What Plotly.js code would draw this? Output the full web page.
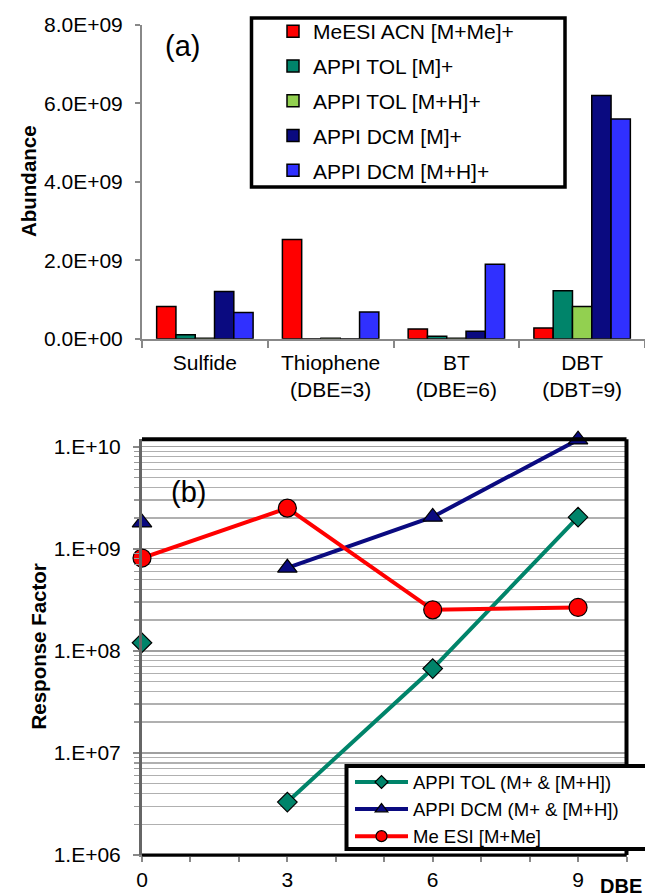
<!DOCTYPE html>
<html>
<head>
<meta charset="utf-8">
<script src="https://cdn.plot.ly/plotly-3.0.1.min.js"></script>
<style>html,body{margin:0;padding:0;background:#fff;}#chart{width:645px;height:896px;}</style>
</head>
<body>
<div id="chart"></div>
<script>
// ---- Panel (a) data ----
const categories = ['Sulfide', 'Thiophene<br>(DBE=3)', 'BT<br>(DBE=6)', 'DBT<br>(DBT=9)'];
const barSeriesNames = ['MeESI ACN [M+Me]+', 'APPI TOL [M]+', 'APPI TOL [M+H]+', 'APPI DCM [M]+', 'APPI DCM [M+H]+'];
const meEsiAcn  = [0.82e9, 2.53e9, 0.25e9, 0.27e9];
const appiTolM  = [0.10e9, 0,      0.06e9, 1.22e9];
const appiTolMH = [0.01e9, 0.01e9, 0.01e9, 0.82e9];
const appiDcmM  = [1.20e9, 0,      0.19e9, 6.20e9];
const appiDcmMH = [0.67e9, 0.68e9, 1.90e9, 5.60e9];
const abundTickVals = [0, 2e9, 4e9, 6e9, 8e9];
const abundTickText = ['0.0E+00', '2.0E+09', '4.0E+09', '6.0E+09', '8.0E+09'];

// ---- Panel (b) data ----
const lineSeriesNames = ['APPI TOL (M+ & [M+H])', 'APPI DCM (M+ & [M+H])', 'Me ESI [M+Me]'];
const dbe   = [0, 3, 6, 9];
const tolRF = [1.2e8, 3.3e6, 6.7e7, 2.04e9];
const dcmRF = [1.8e9, 6.5e8, 2.05e9, 1.17e10];
const esiRF = [8.1e8, 2.5e9, 2.52e8, 2.66e8];
const rfTickVals = [1e6, 1e7, 1e8, 1e9, 1e10];
const rfTickText = ['1.E+06', '1.E+07', '1.E+08', '1.E+09', '1.E+10'];
const dbeTickVals = [0, 3, 6, 9];

const FONT = 'Liberation Sans, Arial, sans-serif';
const barColors = ['#ff0000', '#00846a', '#92d050', '#0a0a80', '#3030ff'];
const barData = [meEsiAcn, appiTolM, appiTolMH, appiDcmM, appiDcmMH];

const traces = [];
barData.forEach((vals, i) => {
  traces.push({
    type: 'bar', x: categories, y: vals, name: barSeriesNames[i],
    xaxis: 'x', yaxis: 'y', legend: 'legend', legendgroup: 'g' + i,
    marker: {color: barColors[i], line: {color: '#000', width: 1.5}},
    hoverinfo: 'skip'
  });
});

const lineDefs = [
  {y: tolRF, color: '#00846a', symbol: 'diamond', size: 15, legSize: 10, name: lineSeriesNames[0], start: 1},
  {y: dcmRF, color: '#0a0a80', symbol: 'triangle-up', size: 17, legSize: 11, name: lineSeriesNames[1], start: 1},
  {y: esiRF, color: '#ff0000', symbol: 'circle', size: 18, legSize: 11, name: lineSeriesNames[2], start: 0},
];
lineDefs.forEach((d) => {
  const mk = {symbol: d.symbol, size: d.size, color: d.color, line: {color: '#000', width: 1.2}};
  if (d.start > 0) {
    // isolated point at DBE 0 (not joined to the line)
    traces.push({
      type: 'scatter', mode: 'markers', x: dbe.slice(0, d.start), y: d.y.slice(0, d.start),
      xaxis: 'x2', yaxis: 'y2', showlegend: false, cliponaxis: false, marker: mk, hoverinfo: 'skip'
    });
  }
  traces.push({
    type: 'scatter', mode: 'lines+markers', x: dbe.slice(d.start), y: d.y.slice(d.start), name: d.name,
    xaxis: 'x2', yaxis: 'y2', showlegend: false, cliponaxis: false,
    line: {color: d.color, width: 4}, marker: mk, hoverinfo: 'skip'
  });
  // legend entry (small symbol, as in the reference legend)
  traces.push({
    type: 'scatter', mode: 'lines+markers', x: [null], y: [null], name: d.name,
    xaxis: 'x2', yaxis: 'y2', legend: 'legend2',
    line: {color: d.color, width: 4},
    marker: {symbol: d.symbol, size: d.legSize, color: d.color, line: {color: '#000', width: 1.2}},
    hoverinfo: 'skip'
  });
});

const W = 645, H = 896;
const px = v => v / W;
const py = v => (H - v) / H;

const layout = {
  width: W, height: H,
  margin: {l: 0, r: 0, t: 0, b: 0, autoexpand: false},
  paper_bgcolor: '#fff', plot_bgcolor: 'rgba(0,0,0,0)',
  font: {family: FONT, size: 21, color: '#000'},
  showlegend: true,
  barmode: 'group', bargap: 0.233, bargroupgap: 0,
  xaxis: {
    domain: [px(142), 1], anchor: 'y', type: 'category',
    showline: true, linecolor: '#888', linewidth: 2,
    ticks: 'outside', tickson: 'boundaries', ticklen: 7, tickcolor: '#888', tickwidth: 2, ticklabelstandoff: 4,
    tickfont: {size: 21}, showgrid: false, zeroline: false, fixedrange: true
  },
  yaxis: {
    domain: [py(338.7), py(24.8)], anchor: 'x', range: [0, 8e9],
    tickmode: 'array', tickvals: abundTickVals, ticktext: abundTickText,
    showline: true, linecolor: '#888', linewidth: 2,
    ticks: 'outside', ticklen: 5, tickcolor: '#888', tickwidth: 2, ticklabelstandoff: 8,
    showgrid: false, zeroline: false, tickfont: {size: 21}
  },
  xaxis2: {
    domain: [px(142), px(626.5)], anchor: 'y2', range: [0, 10],
    tickmode: 'array', tickvals: dbeTickVals,
    showline: true, linecolor: '#888', linewidth: 2,
    ticks: 'outside', ticklen: 5, tickcolor: '#888', tickwidth: 2, ticklabelstandoff: 0,
    minor: {dtick: 1, ticks: 'outside', ticklen: 5, tickcolor: '#888', tickwidth: 2, showgrid: false},
    showgrid: false, zeroline: false, tickfont: {size: 21}
  },
  yaxis2: {
    domain: [py(855), py(439.3)], anchor: 'x2', type: 'log', range: [6, 10.072],
    tickmode: 'array', tickvals: rfTickVals, ticktext: rfTickText,
    showline: true, linecolor: '#666', linewidth: 3,
    ticks: 'outside', ticklen: 6, tickcolor: '#888', tickwidth: 2, ticklabelstandoff: 8,
    showgrid: true, gridcolor: '#a0a0a0', gridwidth: 1.5,
    minor: {dtick: 'D1', ticks: 'outside', ticklen: 5, tickcolor: '#999', tickwidth: 1.5, showgrid: true, gridcolor: '#b0b0b0', gridwidth: 1.5},
    zeroline: false, tickfont: {size: 21}
  },
  legend: {
    x: px(273), y: py(11), xanchor: 'left', yanchor: 'top',
    bgcolor: 'rgba(0,0,0,0)', borderwidth: 0, font: {size: 21},
    traceorder: 'grouped', tracegroupgap: 4.5, itemclick: false, itemdoubleclick: false
  },
  legend2: {
    x: px(350), y: py(763.5), xanchor: 'left', yanchor: 'top',
    bgcolor: 'rgba(0,0,0,0)', borderwidth: 0, font: {size: 18.5},
    itemwidth: 53, itemclick: false, itemdoubleclick: false
  },
  shapes: [
    // legend (a) frame
    {type: 'rect', xref: 'paper', yref: 'paper', x0: px(251.5), x1: px(565), y0: py(187), y1: py(18),
     line: {color: '#000', width: 3.5}, fillcolor: '#fff', layer: 'below'},
    // panel (b) frame: top, right, bottom
    {type: 'line', xref: 'x2 domain', yref: 'y2 domain', x0: 0, x1: 1, y0: 1, y1: 1, line: {color: '#000', width: 4}, layer: 'above'},
    {type: 'line', xref: 'x2 domain', yref: 'y2 domain', x0: 1, x1: 1, y0: 0, y1: 1, line: {color: '#000', width: 4}, layer: 'above'},
    {type: 'line', xref: 'x2 domain', yref: 'y2 domain', x0: 0, x1: 1, y0: 0, y1: 0, line: {color: '#000', width: 3}, layer: 'above'},
    // legend (b) frame
    {type: 'rect', xref: 'paper', yref: 'paper', x0: px(346.5), x1: px(680), y0: py(849), y1: py(766),
     line: {color: '#000', width: 4}, fillcolor: '#fff', layer: 'above'}
  ],
  annotations: [
    {text: '<b>Abundance</b>', xref: 'paper', yref: 'paper', x: px(28), y: py(181), xanchor: 'center', yanchor: 'middle', textangle: -90, showarrow: false, font: {size: 20.5}},
    {text: '<b>Response Factor</b>', xref: 'paper', yref: 'paper', x: px(37.5), y: py(647), xanchor: 'center', yanchor: 'middle', textangle: -90, showarrow: false, font: {size: 20.5}},
    {text: '(a)', xref: 'paper', yref: 'paper', x: px(182), y: py(46), xanchor: 'center', yanchor: 'middle', showarrow: false, font: {size: 29}},
    {text: '(b)', xref: 'paper', yref: 'paper', x: px(188), y: py(492), xanchor: 'center', yanchor: 'middle', showarrow: false, font: {size: 29}},
    {text: '<b>DBE</b>', xref: 'paper', yref: 'paper', x: px(644), y: py(886), xanchor: 'right', yanchor: 'middle', showarrow: false, font: {size: 20}}
  ]
};

Plotly.newPlot('chart', traces, layout, {staticPlot: true, displayModeBar: false});
</script>
</body>
</html>
